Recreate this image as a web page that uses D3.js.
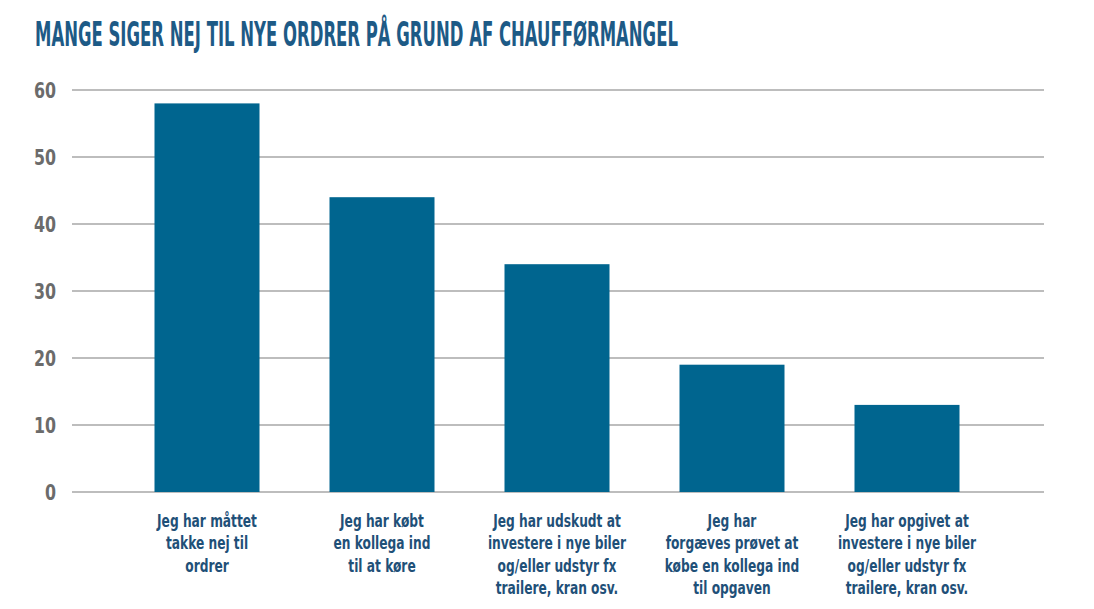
<!DOCTYPE html>
<html>
<head>
<meta charset="utf-8">
<script src="https://cdn.jsdelivr.net/npm/d3@7"></script>
<style>
  body { margin: 0; background: #fff; }
  svg { display: block; }
</style>
</head>
<body>
<svg id="chart"></svg>
<script>
const title = "MANGE SIGER NEJ TIL NYE ORDRER PÅ GRUND AF CHAUFFØRMANGEL";
const categories = [
  ["Jeg har måttet", "takke nej til", "ordrer"],
  ["Jeg har købt", "en kollega ind", "til at køre"],
  ["Jeg har udskudt at", "investere i nye biler", "og/eller udstyr fx", "trailere, kran osv."],
  ["Jeg har", "forgæves prøvet at", "købe en kollega ind", "til opgaven"],
  ["Jeg har opgivet at", "investere i nye biler", "og/eller udstyr fx", "trailere, kran osv."]
];
const values = [58, 44, 34, 19, 13];
const yTicks = [0, 10, 20, 30, 40, 50, 60];

const width = 1094, height = 609;
const font = "'DejaVu Sans Condensed', 'Liberation Sans Narrow', sans-serif";
const svg = d3.select("#chart").attr("width", width).attr("height", height);

// title, squeezed horizontally to the width of the original
const titleText = svg.append("text")
  .attr("font-family", font)
  .attr("font-weight", "bold").attr("font-size", 33)
  .attr("fill", "#1d5a86")
  .text(title);
const tw = titleText.node().getComputedTextLength();
titleText.attr("transform", `translate(35,46) scale(${643 / tw},1)`);

const y = d3.scaleLinear().domain([0, 60]).range([492, 90]);
const x = d3.scaleBand()
  .domain(d3.range(values.length))
  .range([119.5, 994.5])
  .paddingInner(0.4).paddingOuter(0.2);

// gridlines
svg.append("g")
  .selectAll("line")
  .data(yTicks)
  .join("line")
  .attr("x1", 72).attr("x2", 1044)
  .attr("y1", d => y(d)).attr("y2", d => y(d))
  .attr("stroke", "#bdbdbd").attr("stroke-width", 2);

// y axis labels
const yAxis = svg.append("g")
  .attr("transform", "translate(56,0)")
  .call(d3.axisLeft(y).tickValues(yTicks).tickSize(0).tickPadding(0));
yAxis.select(".domain").remove();
yAxis.selectAll(".tick text")
  .attr("font-family", font)
  .attr("font-weight", "bold").attr("font-size", 22)
  .attr("fill", "#6b6b6b")
  .attr("x", 0).attr("dy", "0.36em")
  .attr("transform", "scale(0.8,1)");

// bars
svg.append("g")
  .selectAll("rect")
  .data(values)
  .join("rect")
  .attr("x", (d, i) => x(i))
  .attr("width", x.bandwidth())
  .attr("y", d => y(d))
  .attr("height", d => y(0) - y(d))
  .attr("fill", "#00658f");

// category labels, condensed
const labels = svg.append("g")
  .selectAll("text")
  .data(categories)
  .join("text")
  .attr("transform", (d, i) => `translate(${x(i) + x.bandwidth() / 2},527) scale(0.8,1)`)
  .attr("text-anchor", "middle")
  .attr("font-family", font)
  .attr("font-weight", "bold").attr("font-size", 17)
  .attr("fill", "#1f5078");
labels.selectAll("tspan")
  .data(d => d)
  .join("tspan")
  .attr("x", 0)
  .attr("dy", (d, i) => i === 0 ? 0 : 22.5)
  .text(d => d);
</script>
</body>
</html>
